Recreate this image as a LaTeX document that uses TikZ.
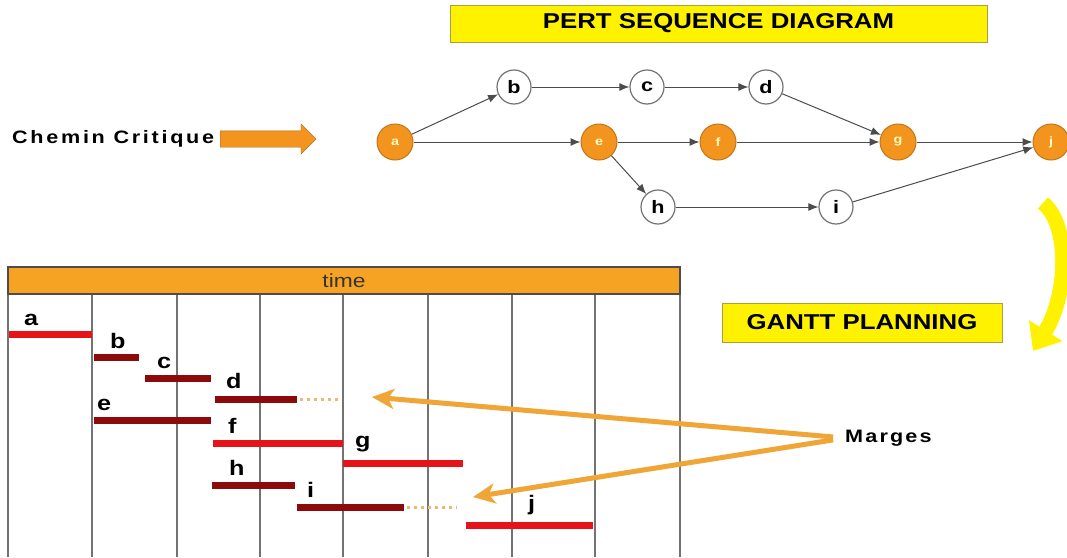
\documentclass[tikz,border=0pt]{standalone}
\usepackage{fontspec}
\setmainfont[FakeStretch=1.2]{Liberation Sans}
\newfontfamily\chemfont[LetterSpace=15,FakeStretch=1.2]{Liberation Sans}
\newfontfamily\margefont[LetterSpace=12,FakeStretch=1.2]{Liberation Sans}
\usepackage{tikz}
\usetikzlibrary{shapes,arrows.meta,positioning}

\definecolor{pertorange}{RGB}{242,148,30}
\definecolor{headorange}{RGB}{246,163,35}
\definecolor{critred}{RGB}{230,20,25}
\definecolor{darkred}{RGB}{140,10,10}
\definecolor{arroworange}{RGB}{240,165,55}
\definecolor{marginorange}{RGB}{235,185,115}

\begin{document}
\begin{tikzpicture}[x=1pt,y=-1pt,
    pert/.style={draw=black!55, circle, fill=white, minimum size=34pt, inner sep=0pt,
        line width=1.2pt, font=\bfseries\fontsize{18}{18}\selectfont},
    crit/.style={draw=pertorange!80!black, circle, fill=pertorange, minimum size=36pt,
        inner sep=0pt, line width=1pt, text=yellow!25, font=\bfseries\fontsize{12}{12}\selectfont},
    link/.style={-{Latex[length=10pt,width=8pt]}, black!70, line width=1pt},
    titlebox/.style={draw=yellow!60!black, fill=yellow, line width=0.8pt, inner sep=0pt,
        font=\bfseries\fontsize{21.5}{22}\selectfont},
    bar/.style={line width=7pt},
    barlabel/.style={anchor=base west, inner sep=0pt, font=\bfseries\fontsize{21}{21}\selectfont},
    margin/.style={draw=marginorange, line width=3pt, dash pattern=on 3pt off 4pt},
    margearrow/.style={draw=arroworange, line width=5pt, shorten <=12pt,
        -{Stealth[length=22pt,width=20pt,inset=6pt]}},
    gridline/.style={draw=black!55, line width=1.2pt}
]

\useasboundingbox (0,0) rectangle (1067,557);
\fill[white] (0,0) rectangle (1067,557);

% PERT
\node[titlebox, minimum width=537pt, minimum height=37pt] (perttitle) at (718.5,23.5) {PERT SEQUENCE DIAGRAM};

\node[crit] (a) at (395,142) {a};
\node[pert] (b) at (514,87) {b};
\node[pert] (c) at (647,87) {c};
\node[pert] (d) at (766,87) {d};
\node[crit] (e) at (599,142) {e};
\node[crit] (f) at (718,142) {f};
\node[crit] (g) at (898,142) {g};
\node[pert] (h) at (658,207) {h};
\node[pert] (i) at (836,207) {i};
\node[crit] (j) at (1051,142) {j};

\draw[link] (a) -- (b);
\draw[link] (b) -- (c);
\draw[link] (c) -- (d);
\draw[link] (d) -- (g);
\draw[link] (a) -- (e);
\draw[link] (e) -- (f);
\draw[link] (f) -- (g);
\draw[link] (g) -- (j);
\draw[link] (e) -- (h);
\draw[link] (h) -- (i);
\draw[link] (i) -- (j);

\node[anchor=west, inner sep=0pt, font=\chemfont\bfseries\fontsize{18}{18}\selectfont] (chemin) at (12,139) {Chemin Critique};
\node[single arrow, fill=pertorange, draw=pertorange!70!black, minimum height=96pt,
    single arrow head extend=7pt, inner xsep=0pt, inner ysep=8pt, anchor=west] (critarrow) at (220,139) {};

% GANTT
\node[titlebox, minimum width=280pt, minimum height=39pt] (gantttitle) at (862,322.5) {GANTT PLANNING};

\coordinate (curvetop) at (1043,203);
\coordinate (curvebottom) at (1033,351);
\draw[yellow, line width=15pt, -{Triangle[length=24pt,width=38pt]}] (curvetop) .. controls (1070,225) and (1068,295) .. (curvebottom);

\foreach \x in {8,92,177,260,343,428,512,595,680}
    \draw[gridline] (\x,294) -- (\x,557);
\node[draw=black!70, fill=headorange, line width=1.2pt, minimum width=672pt, minimum height=27pt,
    inner sep=0pt, font=\fontsize{19}{19}\selectfont, text=black!80] (timebar) at (344,280.5) {time};

\draw[bar, critred] (9,334) -- (92,334);
\node[barlabel] (la) at (24,325) {a};
\draw[bar, darkred] (94,357) -- (139,357);
\node[barlabel] (lb) at (110,348) {b};
\draw[bar, darkred] (145,378) -- (211,378);
\node[barlabel] (lc) at (157,368) {c};
\draw[bar, darkred] (215,399) -- (297,399);
\draw[margin] (300,399) -- (340,399);
\node[barlabel] (ld) at (226,388) {d};
\draw[bar, darkred] (94,420) -- (211,420);
\node[barlabel] (le) at (97,410) {e};
\draw[bar, critred] (213,443) -- (343,443);
\node[barlabel] (lf) at (228,433) {f};
\draw[bar, critred] (343,463) -- (463,463);
\node[barlabel] (lg) at (355,447) {g};
\draw[bar, darkred] (212,485) -- (295,485);
\node[barlabel] (lh) at (229,475) {h};
\draw[bar, darkred] (297,507) -- (404,507);
\draw[margin] (407,507) -- (457,507);
\node[barlabel] (li) at (307,497) {i};
\draw[bar, critred] (466,525) -- (593,525);
\node[barlabel] (lj) at (528,510) {j};

\node[anchor=west, inner sep=0pt, font=\margefont\bfseries\fontsize{18}{18}\selectfont] (marges) at (845,438) {Marges};
\coordinate (margd) at (372,397);
\coordinate (margi) at (473,497);
\draw[margearrow] (marges.west) -- (margd);
\draw[margearrow] (marges.west) -- (margi);

\end{tikzpicture}
\end{document}
